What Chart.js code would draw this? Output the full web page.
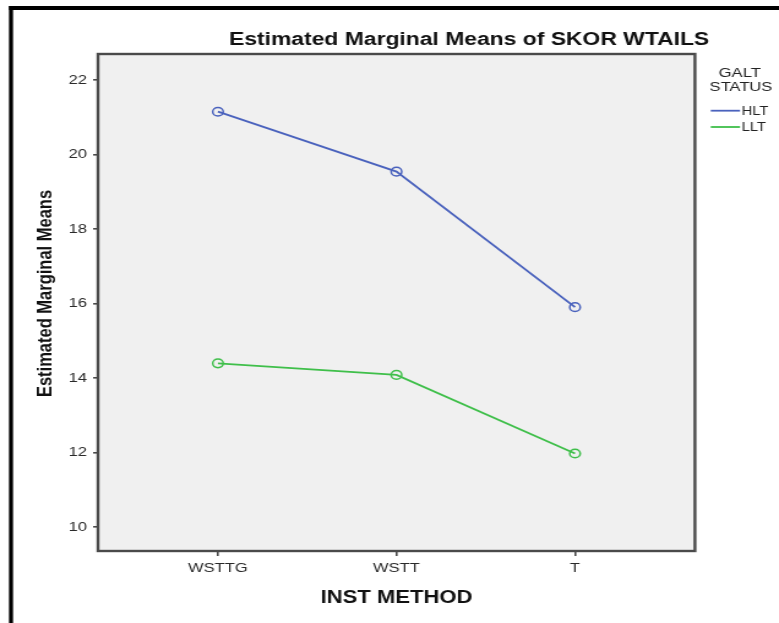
<!DOCTYPE html>
<html>
<head>
<meta charset="utf-8">
<script src="https://cdn.jsdelivr.net/npm/chart.js@4/dist/chart.umd.min.js"></script>
<style>
  html, body { margin: 0; padding: 0; background: #ffffff; overflow: hidden; }
  #wrap { width: 779px; height: 623px; overflow: hidden; }
  #c { display: block; transform: scaleX(1.2248); transform-origin: 0 0; }
</style>
</head>
<body>
<div id="wrap"><canvas id="c" width="636" height="623"></canvas></div>
<script>
// ---- data ----
const categories = ['WSTTG', 'WSTT', 'T'];
const hltValues = [21.15, 19.54, 15.90];
const lltValues = [14.39, 14.08, 11.97];
const yTickValues = [10, 12, 14, 16, 18, 20, 22];
const seriesNames = ['HLT', 'LLT'];
const chartTitle = 'Estimated Marginal Means of SKOR WTAILS';
const xTitle = 'INST METHOD';
const yTitle = 'Estimated Marginal Means';
const legendTitle = ['GALT', 'STATUS'];

const BLUE = '#4a62bd';
const GREEN = '#3fbf4a';
const FONT = '"Liberation Sans", Arial, sans-serif';

const toPoints = vals => vals.map((v, i) => ({ x: i, y: v }));

const decor = {
  id: 'decor',
  beforeDraw(chart) {
    const ctx = chart.ctx, a = chart.chartArea;
    ctx.save();
    ctx.fillStyle = '#ffffff';
    ctx.fillRect(0, 0, chart.width, chart.height);
    // frame lines
    ctx.fillStyle = '#000000';
    ctx.fillRect(7.35, 6, 3.3, chart.height - 6);
    ctx.fillRect(7.35, 6, chart.width, 4);
    // plot background
    ctx.fillStyle = '#f0f0f0';
    ctx.fillRect(a.left, a.top, a.right - a.left, a.bottom - a.top);
    ctx.restore();
  },
  afterDraw(chart) {
    const ctx = chart.ctx, a = chart.chartArea;
    ctx.save();
    // plot border
    ctx.strokeStyle = '#4a4a4a';
    ctx.lineWidth = 2.4;
    ctx.strokeRect(a.left, a.top, a.right - a.left, a.bottom - a.top);
    // title
    ctx.fillStyle = '#111111';
    ctx.textBaseline = 'alphabetic';
    ctx.textAlign = 'center';
    ctx.font = 'bold 18.7px ' + FONT;
    ctx.fillText(chartTitle, 383, 45);
    // x title
    ctx.font = 'bold 18px ' + FONT;
    ctx.fillText(xTitle, (a.left + a.right) / 2, 603);
    // y title
    ctx.save();
    ctx.translate(42.3, 293.5);
    ctx.rotate(-Math.PI / 2);
    ctx.font = 'bold 16.5px ' + FONT;
    ctx.fillText(yTitle, 0, 0);
    ctx.restore();
    // legend
    ctx.font = '13.5px ' + FONT;
    ctx.fillStyle = '#222222';
    ctx.fillText(legendTitle[0], 604, 77.3);
    ctx.fillText(legendTitle[1], 605, 90.7);
    const colors = [BLUE, GREEN];
    const ys = [110.7, 127];
    ctx.textAlign = 'left';
    ctx.font = '12px ' + FONT;
    chart.data.datasets.forEach((ds, i) => {
      ctx.strokeStyle = colors[i];
      ctx.lineWidth = 1.8;
      ctx.beginPath();
      ctx.moveTo(580.3, ys[i]);
      ctx.lineTo(604.2, ys[i]);
      ctx.stroke();
      ctx.fillStyle = '#222222';
      ctx.fillText(ds.label, 605.5, ys[i] + 4.3);
    });
    ctx.restore();
  }
};

new Chart(document.getElementById('c'), {
  type: 'line',
  data: {
    datasets: [
      { label: seriesNames[0], data: toPoints(hltValues), borderColor: BLUE, borderWidth: 1.8,
        pointRadius: 4.3, pointBorderWidth: 1.5, pointBorderColor: BLUE, pointBackgroundColor: 'rgba(0,0,0,0)',
        tension: 0 },
      { label: seriesNames[1], data: toPoints(lltValues), borderColor: GREEN, borderWidth: 1.8,
        pointRadius: 4.3, pointBorderWidth: 1.5, pointBorderColor: GREEN, pointBackgroundColor: 'rgba(0,0,0,0)',
        tension: 0 }
    ]
  },
  options: {
    responsive: false,
    animation: false,
    devicePixelRatio: 1,
    layout: { padding: { top: 54, right: 68.6, left: 0, bottom: 0 } },
    plugins: { legend: { display: false }, title: { display: false }, tooltip: { enabled: false } },
    scales: {
      x: {
        type: 'linear',
        min: -0.672, max: 2.672,
        afterFit(s) { s.height = 72; },
        afterBuildTicks(s) { s.ticks = categories.map((c, i) => ({ value: i })); },
        grid: { display: true, drawOnChartArea: false, drawTicks: true, tickLength: 5, color: '#4a4a4a', lineWidth: 1.6 },
        border: { display: false },
        ticks: {
          autoSkip: false, maxRotation: 0, padding: 4, color: '#2a2a2a',
          font: { family: FONT, size: 13.5 },
          callback: v => categories[v]
        }
      },
      y: {
        type: 'linear',
        min: 9.35, max: 22.7,
        afterFit(s) { s.width = 80; },
        afterBuildTicks(s) { s.ticks = yTickValues.map(v => ({ value: v })); },
        grid: { display: true, drawOnChartArea: false, drawTicks: true, tickLength: 4, color: '#4a4a4a', lineWidth: 1.6 },
        border: { display: false },
        ticks: { padding: 5, color: '#2a2a2a', font: { family: FONT, size: 13.5 } }
      }
    }
  },
  plugins: [decor]
});
</script>
</body>
</html>
